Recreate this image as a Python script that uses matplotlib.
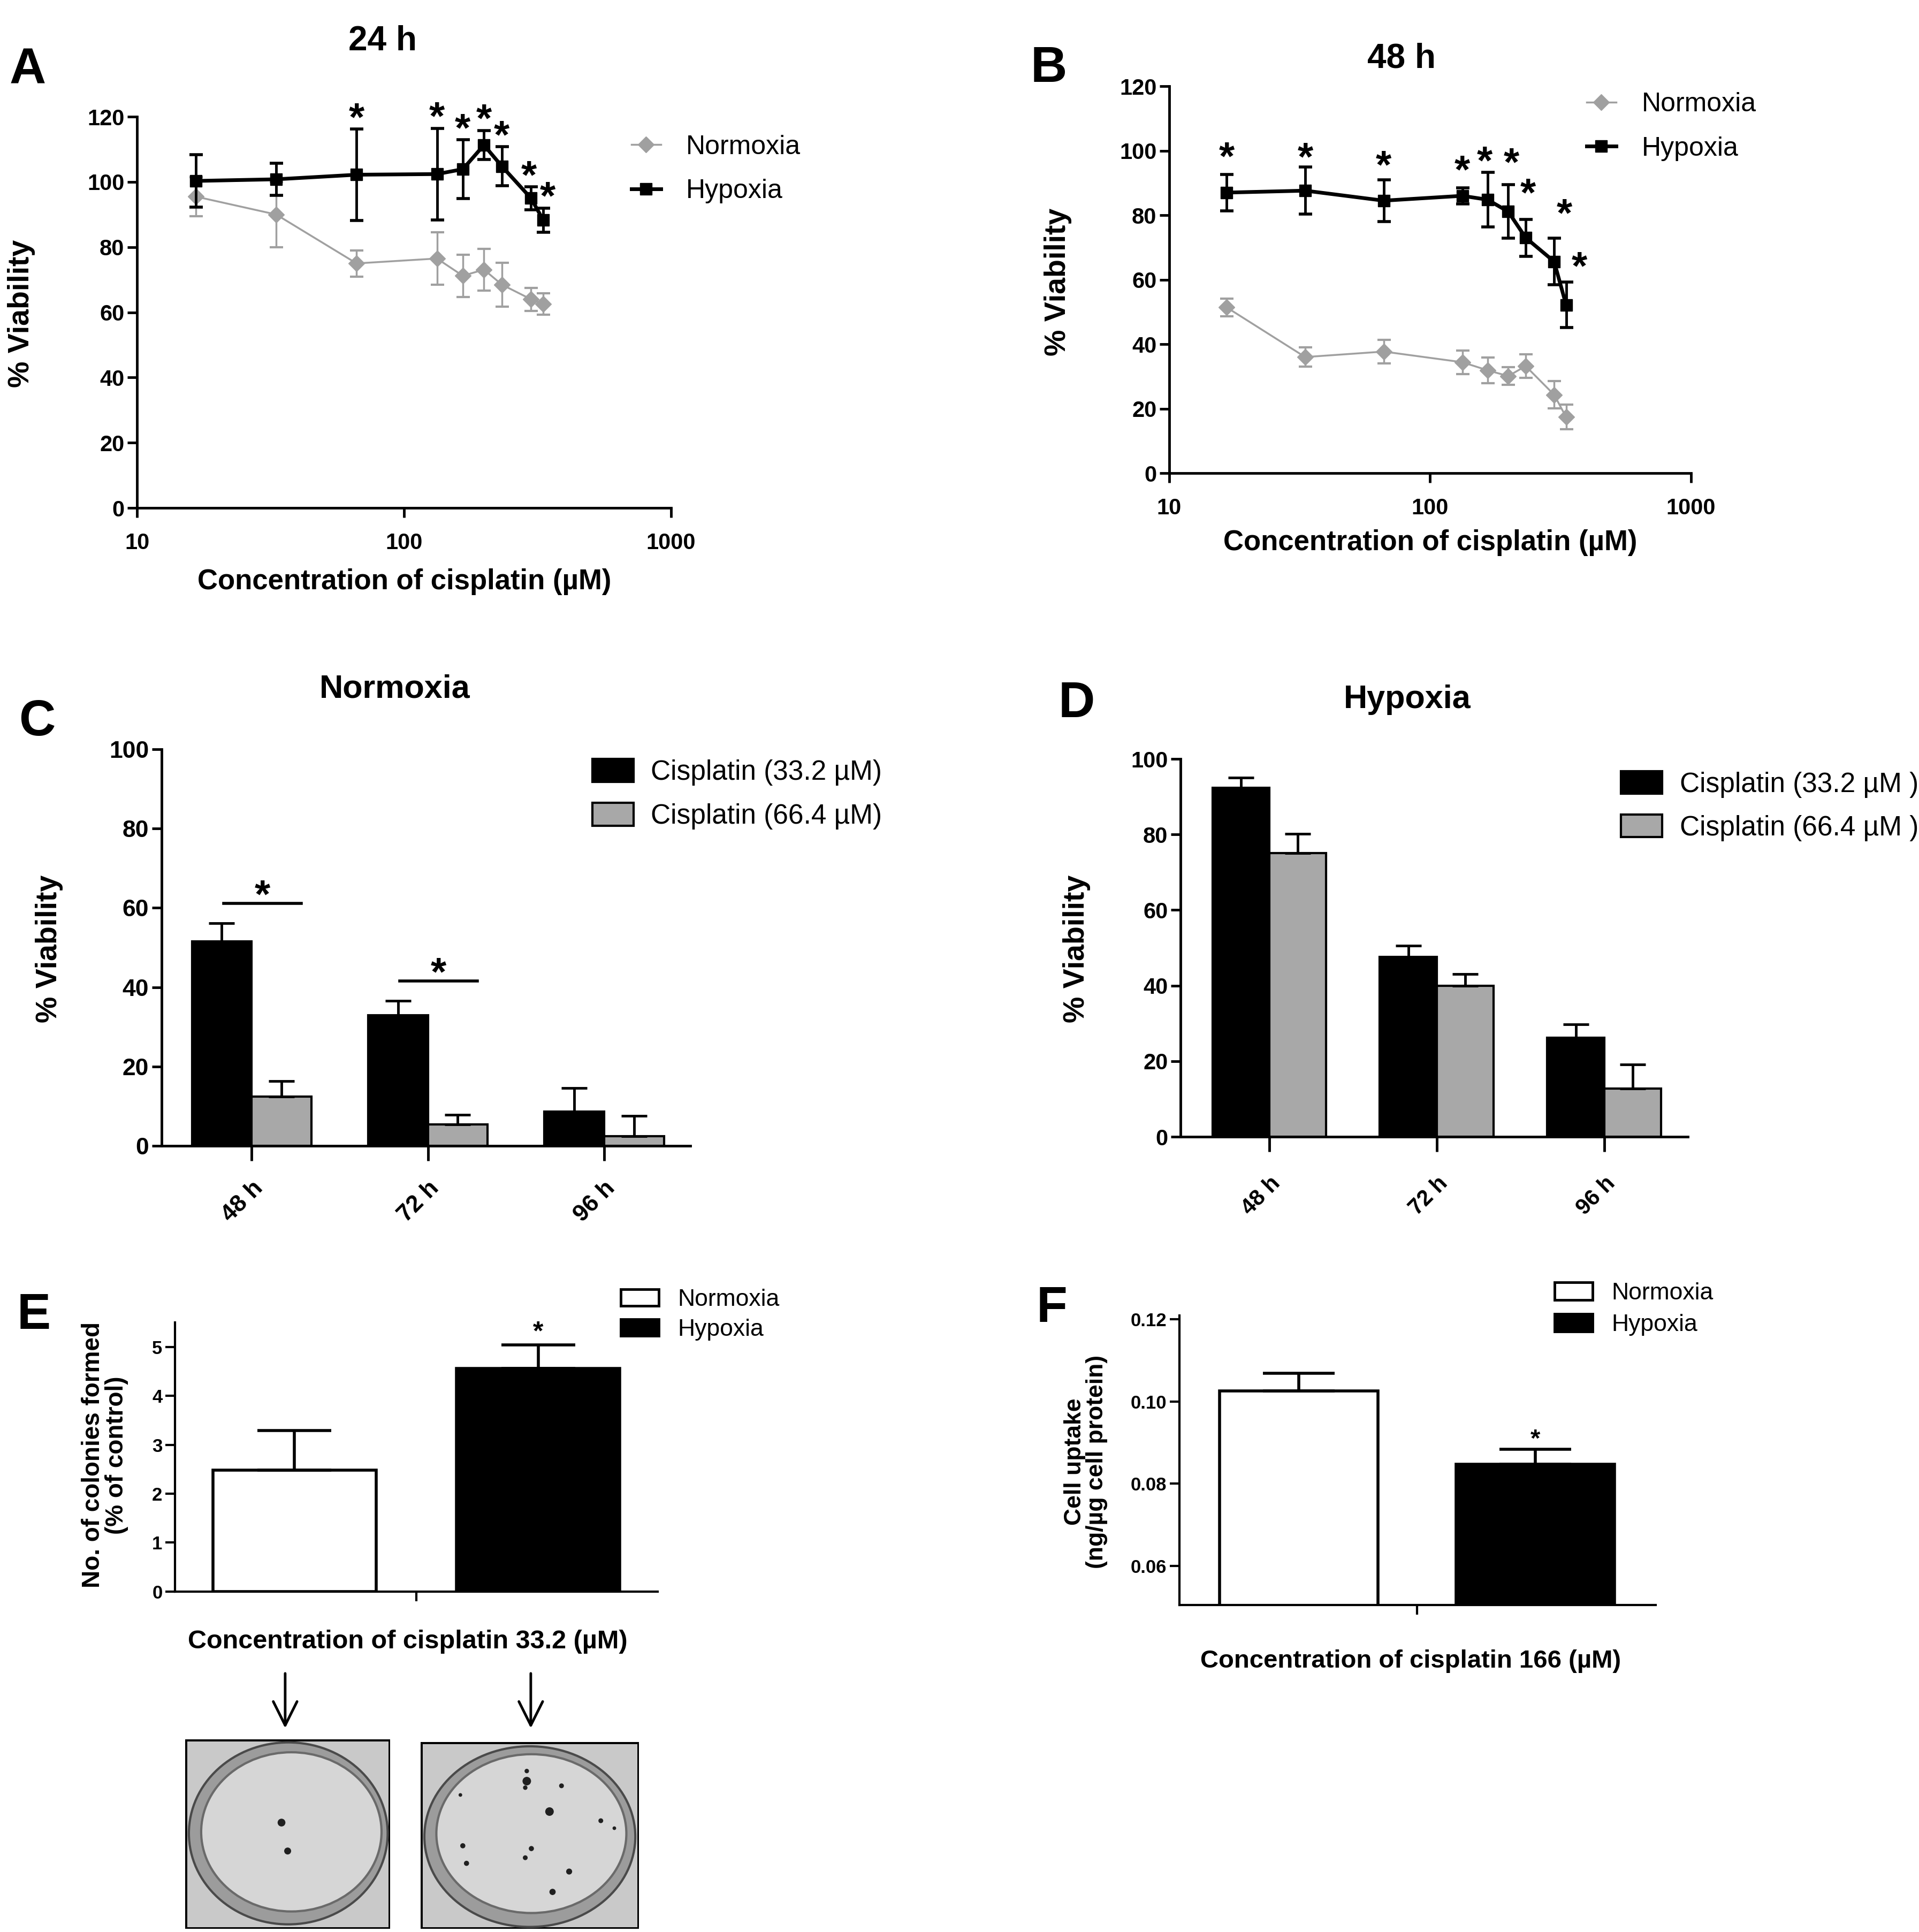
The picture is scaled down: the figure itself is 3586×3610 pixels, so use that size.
import matplotlib.pyplot as plt
from matplotlib.lines import Line2D
from matplotlib.patches import Patch, Rectangle, Ellipse, FancyArrowPatch
from matplotlib.ticker import NullLocator

plt.rcParams['font.family'] = ['Liberation Sans', 'DejaVu Sans']

# ---- data ----
conc = [16.6, 33.2, 66.4, 132.8, 166, 199.2, 232.4, 298.8, 332]

norm_24 = [95.5, 90, 75, 76.5, 71.2, 73.1, 68.5, 64, 62.6]
norm_24_err = [6, 10, 4, 8, 6.5, 6.4, 6.7, 3.5, 3.3]
hyp_24 = [100.3, 100.8, 102.2, 102.4, 103.9, 111.3, 104.8, 95, 88.3]
hyp_24_err = [8, 5, 14, 14, 9, 4.5, 6, 3.5, 3.7]
sig_24 = [False, False, True, True, True, True, True, True, True]

norm_48 = [51.4, 36, 37.7, 34.4, 31.9, 30.1, 33.2, 24.3, 17.4]
norm_48_err = [2.7, 3, 3.7, 3.7, 4, 2.7, 3.7, 4.2, 3.8]
hyp_48 = [87, 87.6, 84.5, 86, 84.8, 81.1, 73, 65.6, 52.2]
hyp_48_err = [5.7, 7.3, 6.5, 2.5, 8.4, 8.3, 5.7, 7.2, 7]
sig_48 = [True] * 9

times = ['48 h', '72 h', '96 h']
c_low = [51.5, 32.9, 8.7]
c_low_err = [4.6, 3.7, 5.9]
c_high = [12.4, 5.4, 2.5]
c_high_err = [4.0, 2.5, 5.1]
c_sig = [True, True, False]

d_low = [92.4, 47.6, 26.2]
d_low_err = [2.7, 3.0, 3.5]
d_high = [75.1, 40.0, 12.8]
d_high_err = [5.1, 3.0, 6.3]

groups = ['Normoxia', 'Hypoxia']
colonies = [2.48, 4.56]
colonies_err = [0.81, 0.48]

uptake = [0.1025, 0.0847]
uptake_err = [0.0044, 0.0037]

# colony spots on the two dish photos (fraction of the photo)
dish_norm_x = [0.47, 0.50]
dish_norm_y = [0.56, 0.41]
dish_norm_s = [90, 70]
dish_hyp_x = [0.486, 0.486, 0.479, 0.645, 0.182, 0.590, 0.825, 0.887, 0.193, 0.507, 0.479, 0.210, 0.680, 0.604]
dish_hyp_y = [0.844, 0.790, 0.755, 0.765, 0.716, 0.627, 0.578, 0.538, 0.444, 0.429, 0.380, 0.350, 0.306, 0.197]
dish_hyp_s = [25, 110, 25, 30, 15, 110, 30, 15, 35, 35, 30, 35, 50, 55]

grey = '#a0a0a0'
bar_grey = '#a8a8a8'

fig = plt.figure(figsize=(35.86, 36.10), dpi=100)


def style_axes(ax, lw=3.5, tick_fs=30):
    for s in ['top', 'right']:
        ax.spines[s].set_visible(False)
    for s in ['left', 'bottom']:
        ax.spines[s].set_linewidth(lw)
    ax.tick_params(width=lw, length=13, direction='out', labelsize=tick_fs, pad=4)
    for lbl in ax.get_xticklabels() + ax.get_yticklabels():
        lbl.set_fontweight('bold')


def star(ax, x, y, fs, dy, dx=0):
    # put the centre of the asterisk glyph dy points above (x, y)
    ax.annotate('*', xy=(x, y), xytext=(dx, dy - 0.58 * fs), textcoords='offset points',
                ha='center', va='baseline', fontsize=fs, fontweight='bold',
                annotation_clip=False)


def place_labels(ax, xlab, ylab, xl_pos, yl_pos, xfs, yfs):
    if xlab:
        ax.set_xlabel(xlab, fontsize=xfs, fontweight='bold')
        ax.xaxis.label.set_va('center')
        ax.xaxis.set_label_coords(*xl_pos)
    ax.set_ylabel(ylab, fontsize=yfs, fontweight='bold', linespacing=1.0)
    ax.yaxis.label.set_va('center')
    ax.yaxis.set_label_coords(*yl_pos)


# ---------------- A ----------------
axA = fig.add_axes([0.0714, 0.7371, 0.2783, 0.2025])
axA.errorbar(conc, norm_24, yerr=norm_24_err, color=grey, marker='D', ms=15, lw=2.5,
             elinewidth=2.5, capsize=9, capthick=3, zorder=2)
axA.errorbar(conc, hyp_24, yerr=hyp_24_err, color='k', marker='s', ms=16, lw=5,
             elinewidth=3.5, capsize=9, capthick=4, zorder=3)
star_dx_24 = [0, 0, 0, 0, 0, 0, 0, -3, 6]
for c, m, e, s, dx in zip(conc, hyp_24, hyp_24_err, sig_24, star_dx_24):
    if s:
        star(axA, c, m + e, 54, 30, dx)
axA.set_xscale('log')
axA.set_xlim(10, 1000)
axA.set_ylim(0, 120)
axA.set_xticks([10, 100, 1000])
axA.set_xticklabels(['10', '100', '1000'])
axA.xaxis.set_minor_locator(NullLocator())
axA.set_yticks(range(0, 121, 20))
style_axes(axA)
axA.tick_params(axis='x', pad=20)
place_labels(axA, 'Concentration of cisplatin (\u00b5M)', '% Viability', (0.501, -0.189), (-0.216, 0.497), 38, 40)
axA.text(0.46, 1.193, '24 h', transform=axA.transAxes, ha='center', va='center', fontsize=46, fontweight='bold')
lineA = [Line2D([], [], color=grey, marker='D', ms=15, lw=2.5),
         Line2D([], [], color='k', marker='s', ms=16, lw=5)]
axA.legend(lineA, ['Normoxia', 'Hypoxia'], loc='upper left', bbox_to_anchor=(0.329, 0.9302),
           bbox_transform=fig.transFigure, frameon=False, fontsize=36, borderpad=0,
           borderaxespad=0, handlelength=1.1, handletextpad=0.95, labelspacing=0.73)

# ---------------- B ----------------
axB = fig.add_axes([0.6093, 0.7551, 0.2719, 0.2003])
axB.errorbar(conc, norm_48, yerr=norm_48_err, color=grey, marker='D', ms=15, lw=2.5,
             elinewidth=2.5, capsize=9, capthick=3, zorder=2)
axB.errorbar(conc, hyp_48, yerr=hyp_48_err, color='k', marker='s', ms=16, lw=5,
             elinewidth=3.5, capsize=9, capthick=4, zorder=3)
star_dx_48 = [0, 0, 0, 0, -4, 4, 3, 14, 18]
star_dy_48 = [38, 28, 34, 38, 30, 44, 50, 48, 36]
for c, m, e, s, dx, dy in zip(conc, hyp_48, hyp_48_err, sig_48, star_dx_48, star_dy_48):
    if s:
        star(axB, c, m + e, 54, dy, dx)
axB.set_xscale('log')
axB.set_xlim(10, 1000)
axB.set_ylim(0, 120)
axB.set_xticks([10, 100, 1000])
axB.set_xticklabels(['10', '100', '1000'])
axB.xaxis.set_minor_locator(NullLocator())
axB.set_yticks(range(0, 121, 20))
style_axes(axB)
axB.tick_params(axis='x', pad=20)
place_labels(axB, 'Concentration of cisplatin (\u00b5M)', '% Viability', (0.5, -0.18), (-0.213, 0.494), 38, 40)
axB.text(0.445, 1.071, '48 h', transform=axB.transAxes, ha='center', va='center', fontsize=46, fontweight='bold')
axB.legend(lineA, ['Normoxia', 'Hypoxia'], loc='upper left', bbox_to_anchor=(0.8268, 0.9523),
           bbox_transform=fig.transFigure, frameon=False, fontsize=36, borderpad=0,
           borderaxespad=0, handlelength=1.1, handletextpad=0.95, labelspacing=0.73)


# ---------------- C and D ----------------
def time_bars(ax, low, low_err, high, high_err, w=0.34):
    x = list(range(len(times)))
    ax.bar(x, low, width=-w, align='edge', color='k', edgecolor='k', lw=3, zorder=2)
    ax.bar(x, high, width=w, align='edge', color=bar_grey, edgecolor='k', lw=3, zorder=2)
    ax.errorbar([i - w / 2 for i in x], low, yerr=[[0] * len(x), low_err], fmt='none',
                ecolor='k', elinewidth=3.5, capsize=17, capthick=3.5, zorder=3)
    ax.errorbar([i + w / 2 for i in x], high, yerr=[[0] * len(x), high_err], fmt='none',
                ecolor='k', elinewidth=3.5, capsize=17, capthick=3.5, zorder=3)
    ax.set_xticks(x)
    ax.set_xticklabels(times, rotation=45, ha='right', va='top', rotation_mode='anchor')
    ax.set_ylim(0, 100)
    ax.set_yticks(range(0, 101, 20))
    return x


axC = fig.add_axes([0.0842, 0.4069, 0.2755, 0.2053])
time_bars(axC, c_low, c_low_err, c_high, c_high_err)
for i, s in enumerate(c_sig):
    if s:
        yb = c_low[i] + c_low_err[i] + 5
        axC.plot([i - 0.16, i + 0.28], [yb, yb], color='k', lw=4)
        star(axC, i + 0.06, yb, 54, 26)
axC.set_xlim(-0.512, 2.49)
style_axes(axC, tick_fs=32)
axC.tick_params(axis='x', length=20, pad=22)
place_labels(axC, None, '% Viability', None, (-0.2126, 0.497), 38, 40)
axC.text(0.441, 1.151, 'Normoxia', transform=axC.transAxes, ha='center', va='center', fontsize=44, fontweight='bold')
patchC = [Patch(facecolor='k', edgecolor='k', lw=3), Patch(facecolor=bar_grey, edgecolor='k', lw=3)]
axC.legend(patchC, ['Cisplatin (33.2 \u00b5M)', 'Cisplatin (66.4 \u00b5M)'], loc='upper left',
           bbox_to_anchor=(0.3087, 0.6072), bbox_transform=fig.transFigure, frameon=False,
           fontsize=37, borderpad=0, borderaxespad=0, handlelength=1.5, handleheight=0.9,
           handletextpad=0.63, labelspacing=0.63)

axD = fig.add_axes([0.6152, 0.4116, 0.2644, 0.1956])
time_bars(axD, d_low, d_low_err, d_high, d_high_err)
axD.set_xlim(-0.53, 2.5)
style_axes(axD, tick_fs=30)
axD.tick_params(axis='x', length=20, pad=28)
place_labels(axD, None, '% Viability', None, (-0.205, 0.497), 38, 40)
axD.text(0.447, 1.157, 'Hypoxia', transform=axD.transAxes, ha='center', va='center', fontsize=44, fontweight='bold')
axD.legend(patchC, ['Cisplatin (33.2 \u00b5M )', 'Cisplatin (66.4 \u00b5M )'], loc='upper left',
           bbox_to_anchor=(0.8447, 0.6009), bbox_transform=fig.transFigure, frameon=False,
           fontsize=37, borderpad=0, borderaxespad=0, handlelength=1.5, handleheight=0.9,
           handletextpad=0.63, labelspacing=0.6)


# ---------------- E and F ----------------
def two_bars(ax, vals, errs, capsize):
    x = list(range(len(groups)))
    ax.bar(x, vals, width=0.67, color=['white', 'k'], edgecolor='k', lw=4, zorder=2)
    ax.errorbar(x, vals, yerr=[[0] * len(x), errs], fmt='none', ecolor='k',
                elinewidth=4, capsize=capsize, capthick=4, zorder=3)
    ax.set_xticks([0.5])
    ax.set_xticklabels([''])
    return x


axE = fig.add_axes([0.0912, 0.1762, 0.2515, 0.1393])
two_bars(axE, colonies, colonies_err, 50)
star(axE, 1, colonies[1] + colonies_err[1], 36, 28)
axE.set_xlim(-0.49, 1.49)
axE.set_ylim(0, 5.5)
axE.set_yticks(range(0, 6))
style_axes(axE, lw=3, tick_fs=25)
place_labels(axE, 'Concentration of cisplatin 33.2 (\u00b5M)', 'No. of colonies formed\n(% of control)',
             (0.482, -0.187), (-0.145, 0.507), 35, 33)
patchEF = [Patch(facecolor='white', edgecolor='k', lw=3.5), Patch(facecolor='k', edgecolor='k', lw=3.5)]
axE.legend(patchEF, groups, loc='upper left', bbox_to_anchor=(0.3235, 0.333),
           bbox_transform=fig.transFigure, frameon=False, fontsize=32, borderpad=0,
           borderaxespad=0, handlelength=1.6, handleheight=0.7, handletextpad=0.8, labelspacing=0.35)

axF = fig.add_axes([0.6146, 0.1693, 0.2482, 0.1498])
two_bars(axF, uptake, uptake_err, 48)
star(axF, 1, uptake[1] + uptake_err[1], 34, 23)
axF.set_xlim(-0.505, 1.51)
axF.set_ylim(0.0505, 0.1209)
axF.set_yticks([0.06, 0.08, 0.10, 0.12])
axF.set_yticklabels(['0.06', '0.08', '0.10', '0.12'])
style_axes(axF, lw=3, tick_fs=25)
place_labels(axF, 'Concentration of cisplatin 166 (\u00b5M)', 'Cell uptake\n(ng/\u00b5g cell protein)',
             (0.485, -0.194), (-0.197, 0.494), 34, 32)
axF.legend(patchEF, groups, loc='upper left', bbox_to_anchor=(0.8101, 0.3363),
           bbox_transform=fig.transFigure, frameon=False, fontsize=32, borderpad=0,
           borderaxespad=0, handlelength=1.6, handleheight=0.75, handletextpad=0.8, labelspacing=0.4)

# ---------------- dish photos under E ----------------
for arrow_x in [0.1486, 0.2766]:
    fig.add_artist(FancyArrowPatch((arrow_x, 0.1346), (arrow_x, 0.1047), transform=fig.transFigure,
                                   arrowstyle='->', mutation_scale=80, lw=3.5, color='k'))


def dish(rect, ring, inner, xs, ys, ss):
    ax = fig.add_axes(rect)
    ax.set_xlim(0, 1)
    ax.set_ylim(0, 1)
    ax.axis('off')
    ax.add_patch(Rectangle((0, 0), 1, 1, facecolor='#c9c9c9', edgecolor='k', lw=5))
    ax.add_patch(Ellipse(ring[:2], ring[2], ring[3], facecolor='#9c9c9c', edgecolor='#4a4a4a', lw=3))
    ax.add_patch(Ellipse(inner[:2], inner[2], inner[3], facecolor='#d6d6d6', edgecolor='#6a6a6a', lw=3))
    ax.scatter(xs, ys, s=ss, color='#202020', zorder=3)


dish([0.0965, 0.0017, 0.1068, 0.0981], (0.503, 0.503, 0.97, 0.96), (0.518, 0.511, 0.88, 0.84),
     dish_norm_x, dish_norm_y, dish_norm_s)
dish([0.2192, 0.0017, 0.1138, 0.0967], (0.5, 0.493, 0.966, 0.967), (0.507, 0.509, 0.87, 0.85),
     dish_hyp_x, dish_hyp_y, dish_hyp_s)

# ---------------- panel letters ----------------
for letter, (lx, ly) in zip('ABCDEF', [(0.0145, 0.9634), (0.5466, 0.9645), (0.0192, 0.6263),
                                      (0.561, 0.6357), (0.0176, 0.3191), (0.548, 0.3227)]):
    fig.text(lx, ly, letter, ha='center', va='center', fontsize=68, fontweight='bold')

fig.savefig('out.png', dpi=100)
